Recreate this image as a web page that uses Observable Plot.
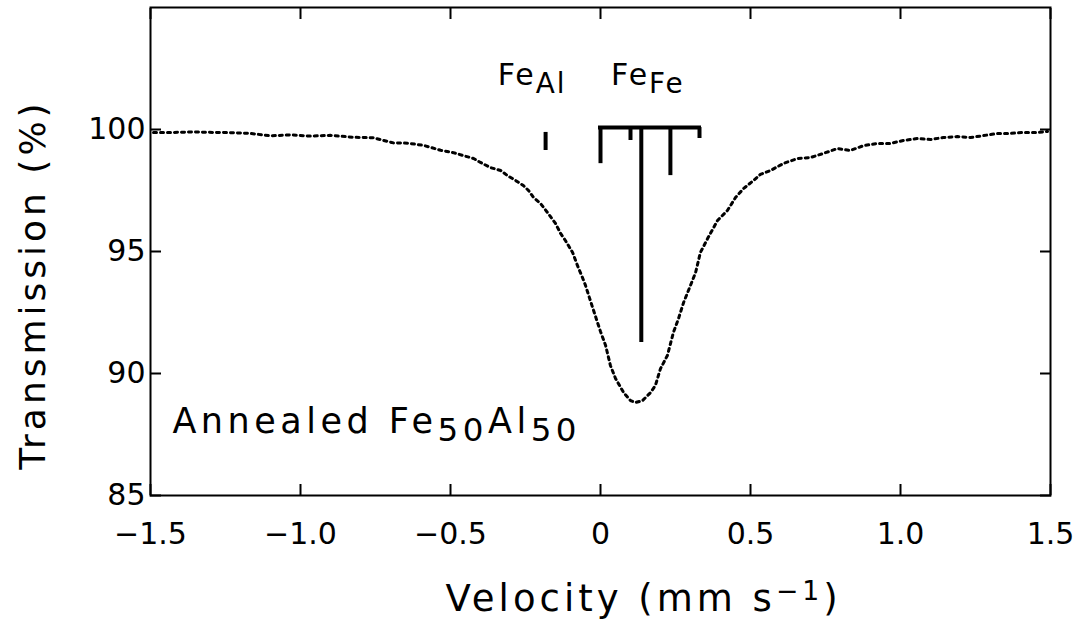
<!DOCTYPE html>
<html><head><meta charset="utf-8">
<script src="https://cdn.jsdelivr.net/npm/d3@7"></script>
<script src="https://cdn.jsdelivr.net/npm/@observablehq/plot@0.6"></script>
<style>body{margin:0;background:#fff;}</style>
</head><body><div id="chart"></div>
<script>
// Mössbauer spectrum
const velocity = [-1.490,-1.423,-1.357,-1.290,-1.233,-1.167,-1.100,-1.033,-0.967,-0.900,-0.823,-0.757,-0.690,-0.643,-0.590,-0.533,-0.490,
  -0.457,-0.423,-0.400,-0.367,-0.333,-0.310,-0.283,-0.257,-0.240,-0.223,-0.200,-0.177,-0.150,-0.133,-0.117,-0.093,-0.077,-0.063,-0.050,-0.037,-0.023,-0.010,
  0.000,0.017,0.033,0.050,0.077,0.100,0.117,0.140,0.167,0.183,0.200,0.223,0.243,0.260,0.277,0.300,0.317,0.333,0.357,0.390,0.423,0.450,0.477,0.510,0.533,
  0.567,0.610,0.657,0.700,0.743,0.790,0.833,0.877,0.923,0.967,1.010,1.057,1.100,1.143,1.190,1.233,1.277,1.323,1.367,1.410,1.457,1.490];
const transmission = [99.88,99.88,99.90,99.88,99.87,99.84,99.74,99.78,99.73,99.76,99.68,99.66,99.45,99.44,99.35,99.15,99.05,
  98.93,98.81,98.65,98.44,98.32,98.11,97.91,97.70,97.50,97.21,96.97,96.60,96.15,95.74,95.45,94.96,94.43,94.02,93.61,93.11,92.58,92.09,
  91.72,91.15,90.33,89.80,89.22,88.89,88.81,88.89,89.22,89.51,90.20,90.74,91.68,92.25,92.91,93.61,94.14,94.96,95.53,96.27,96.68,97.21,97.58,97.91,98.16,
  98.32,98.61,98.81,98.85,99.02,99.22,99.14,99.34,99.43,99.43,99.55,99.63,99.59,99.67,99.71,99.67,99.75,99.84,99.84,99.88,99.88,99.92];

// stick diagram (Fe on Fe sites bracket, Fe on Al site)
const feFeSticks = [0.0, 0.1, 0.136, 0.233, 0.33];
const feFeStickEnds = [98.6, 99.55, 91.27, 98.11, 99.63];
const feFeBarLevel = 100.08;
const feAlStick = [-0.183];
const feAlStickEnds = [[99.14, 99.88]];

const siteLabels = ["Fe_{Al}", "Fe_{Fe}"];
const siteLabelX = [-0.228, 0.158];
const siteLabelY = 102.2;

const xTicks = [-1.5, -1.0, -0.5, 0, 0.5, 1.0, 1.5];
const xTickLabels = ["−1.5", "−1.0", "−0.5", "0", "0.5", "1.0", "1.5"];
const yTicks = [85, 90, 95, 100];
const yTickLabels = ["85", "90", "95", "100"];

const xTitle = "Velocity (mm s^{−1})";
const yTitle = "Transmission (%)";
const sampleLabel = "Annealed Fe_{50}Al_{50}";

const spectrum = velocity.map((v, i) => ({v, t: transmission[i]}));
const fefe = feFeSticks.map((v, i) => ({v, y1: feFeBarLevel, y2: feFeStickEnds[i]}));
const feal = feAlStick.map((v, i) => ({v, y1: feAlStickEnds[i][0], y2: feAlStickEnds[i][1]}));
const sites = siteLabels.map((s, i) => ({s, v: siteLabelX[i], y: siteLabelY}));

const plot = Plot.plot({
  width: 1090, height: 621,
  marginLeft: 150, marginRight: 40, marginTop: 7, marginBottom: 126,
  style: {fontFamily: "DejaVu Sans", fontSize: "30px", color: "black", background: "white", overflow: "visible"},
  x: {domain: [-1.5, 1.5]},
  y: {domain: [85, 105]},
  marks: [
    Plot.frame({strokeWidth: 2}),
    Plot.axisX({anchor: "bottom", ticks: xTicks, tickSize: -11, tickPadding: 38, strokeWidth: 2,
      tickFormat: d => xTickLabels[xTicks.indexOf(d)], fontSize: 30, label: null}),
    Plot.axisX({anchor: "top", ticks: xTicks, tickSize: -11, strokeWidth: 2, tickFormat: () => "", label: null}),
    Plot.axisY({anchor: "left", ticks: yTicks, tickSize: -11, tickPadding: 16, strokeWidth: 2,
      tickFormat: d => yTickLabels[yTicks.indexOf(d)], fontSize: 30, label: null}),
    Plot.axisY({anchor: "right", ticks: yTicks, tickSize: -11, strokeWidth: 2, tickFormat: () => "", label: null}),
    Plot.line(spectrum, {x: "v", y: "t", stroke: "black", strokeWidth: 3, strokeDasharray: "3,4"}),
    Plot.ruleX(fefe, {x: "v", y1: "y1", y2: "y2", stroke: "black", strokeWidth: 4}),
    Plot.ruleY([feFeBarLevel], {y: d => d, x1: feFeSticks[0], x2: feFeSticks[feFeSticks.length - 1], stroke: "black", strokeWidth: 4, strokeLinecap: "square"}),
    Plot.ruleX(feal, {x: "v", y1: "y1", y2: "y2", stroke: "black", strokeWidth: 4}),
    Plot.text(sites, {x: "v", y: "y", text: "s", fontSize: 30, textAnchor: "middle", lineAnchor: "middle", fill: "black"}),
    Plot.text([sampleLabel], {x: -1.427, y: 88.03, text: d => d, fontSize: 35, textAnchor: "start", lineAnchor: "middle", fill: "black"}),
    Plot.text([xTitle], {frameAnchor: "bottom", dx: 43, dy: 104, text: d => d, fontSize: 37, textAnchor: "middle", lineAnchor: "middle", fill: "black"}),
    Plot.text([yTitle], {frameAnchor: "left", dx: -117, dy: 33, rotate: -90, text: d => d, fontSize: 36, textAnchor: "middle", lineAnchor: "middle", fill: "black"})
  ]
});
document.getElementById("chart").appendChild(plot);

const spacing = {[xTitle]: 4, [yTitle]: 4, [sampleLabel]: 4.5, "Fe_{Al}": 2, "Fe_{Fe}": 2};
plot.querySelectorAll("text").forEach(el => {
  const s = el.textContent;
  if (spacing[s] !== undefined) el.setAttribute("letter-spacing", spacing[s]);
  if (!/[_^]\{/.test(s)) return;
  const fs = parseFloat(getComputedStyle(el).fontSize);
  const parts = s.split(/([_^]\{[^}]*\})/).filter(p => p.length);
  while (el.firstChild) el.removeChild(el.firstChild);
  let cur = 0;
  for (const p of parts) {
    let txt = p, shift = 0, scale = 1;
    if (p.startsWith("_{")) { txt = p.slice(2, -1); shift = 0.24 * fs; scale = 0.93; }
    else if (p.startsWith("^{")) { txt = p.slice(2, -1); shift = -0.3 * fs; scale = 0.72; }
    const t = document.createElementNS("http://www.w3.org/2000/svg", "tspan");
    if (shift - cur !== 0) t.setAttribute("dy", shift - cur);
    cur = shift;
    if (scale !== 1) t.setAttribute("font-size", fs * scale);
    t.textContent = txt;
    el.appendChild(t);
  }
});
</script>
</body></html>
